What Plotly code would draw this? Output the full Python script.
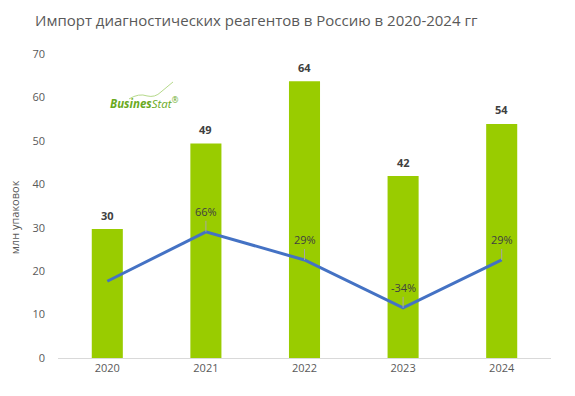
import plotly.graph_objects as go

years = ["2020", "2021", "2022", "2023", "2024"]
imports_mln = [29.7, 49.4, 63.7, 41.9, 53.9]
growth = [0.01, 0.66, 0.29, -0.34, 0.29]
growth_labels = ["", "66%", "29%", "-34%", "29%"]
y_ticks = [0, 10, 20, 30, 40, 50, 60, 70]

FONT = "Open Sans"
TXT = "#595959"
W, H = 567, 388
ML, MR, MT, MB = 50, 24, 46, 37.5
PW, PH = W - ML - MR, H - MT - MB


def px(xp):
    return (xp - ML) / PW


def py(yp):
    return (H - MB - yp) / PH


fig = go.Figure()
fig.add_trace(go.Bar(
    x=years, y=imports_mln, marker_color="#99cc00", marker_line_width=0,
    hoverinfo="skip", showlegend=False,
))
fig.add_trace(go.Scatter(
    x=years, y=growth, yaxis="y2", mode="lines",
    line=dict(color="#4472c4", width=3), showlegend=False, hoverinfo="skip",
))

# bar value labels
for i, v in enumerate(imports_mln):
    fig.add_annotation(
        x=i, y=v, text=f"<b>{v:.0f}</b>", showarrow=False, yshift=14,
        font=dict(size=11, color="#404040", family=FONT),
    )
# growth labels with leader lines
for i, (g, lab) in enumerate(zip(growth, growth_labels)):
    if lab:
        fig.add_annotation(
            x=i, y=g, yref="y2", text=lab, showarrow=True, arrowhead=0,
            arrowwidth=1, arrowcolor="#a6a6a6", ax=0, ay=-20,
            font=dict(size=11, color="#404040", family=FONT),
        )

# title
fig.add_annotation(
    x=px(248), y=py(12), xref="paper", yref="paper", xanchor="center", yanchor="middle",
    text="Импорт диагностических реагентов в Россию в 2020-2024 гг",
    showarrow=False, font=dict(size=15, color=TXT, family=FONT),
)
# y axis title
fig.add_annotation(
    x=px(6.5), y=py(210), xref="paper", yref="paper", xanchor="center", yanchor="middle",
    text="млн упаковок", textangle=-90, showarrow=False,
    font=dict(size=11, color=TXT, family=FONT),
)
# logo
fig.add_annotation(
    text="<b><i>Busines</i></b><i>Stat</i><sup>®</sup>", x=px(100), y=py(95),
    xref="paper", yref="paper", xanchor="left", yanchor="middle", showarrow=False,
    font=dict(size=11.5, color="#6aaa1e", family=FONT),
)
fig.add_shape(
    type="path", xref="paper", yref="paper",
    path=(f"M {px(121)},{py(91)} Q {px(131)},{py(85)} {px(139)},{py(88)} "
          f"Q {px(147)},{py(90)} {px(153)},{py(84)} Q {px(159)},{py(79)} {px(165)},{py(74)}"),
    line=dict(color="#b5d98a", width=1),
)

fig.update_layout(
    width=W, height=H,
    margin=dict(l=ML, r=MR, t=MT, b=MB, pad=0),
    paper_bgcolor="white", plot_bgcolor="white",
    bargap=0.685,
    font=dict(family=FONT, color=TXT, size=11),
    xaxis=dict(type="category", categoryorder="array", categoryarray=years,
               range=[-0.5, 4.5],
               showline=True, linecolor="#d9d9d9", linewidth=1,
               ticks="", tickfont=dict(size=11, color=TXT), showgrid=False),
    yaxis=dict(range=[0, 70], tickvals=y_ticks, showgrid=False, zeroline=False,
               showline=False, tickfont=dict(size=11, color=TXT), ticks="",
               ticklabelstandoff=12),
    yaxis2=dict(range=[-1, 3], overlaying="y", side="right", visible=False),
)

fig.write_html("out.html")
